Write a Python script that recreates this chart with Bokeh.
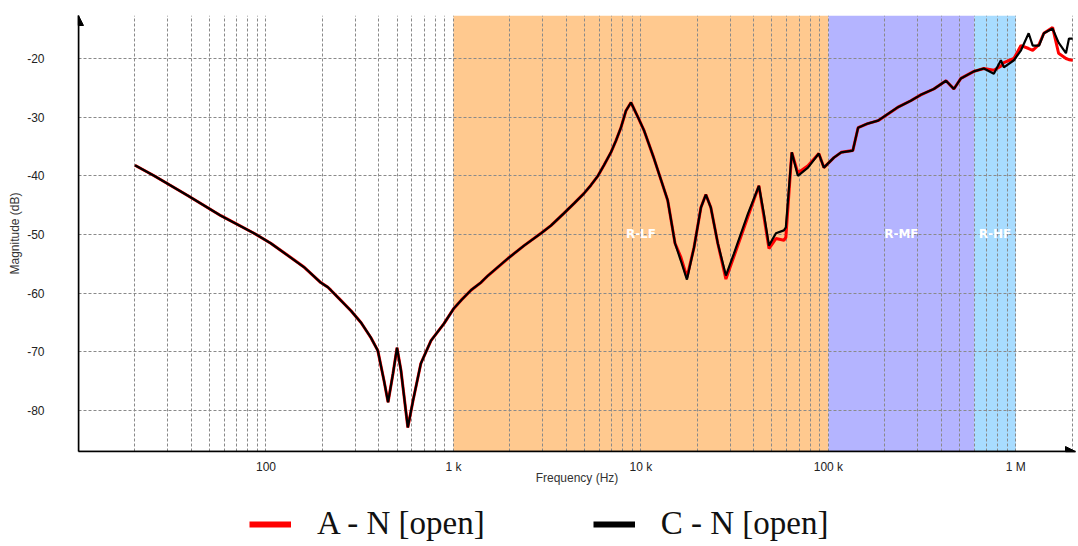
import math
from bokeh.plotting import figure
from bokeh.layouts import column
from bokeh.models import (Range1d, FixedTicker, CustomJSTickFormatter, BoxAnnotation,
                          Arrow, NormalHead, Legend, LegendItem, ColumnDataSource)
from bokeh.core.properties import value
from bokeh.embed import file_html
from bokeh.resources import INLINE

# ---------------- data ----------------
freq_hz = [20, 25.3, 38.4, 57.5, 86.3, 106, 131, 160, 196, 214, 222, 245, 284, 321, 363, 395,
           426, 448, 476, 500, 525, 571, 609, 670, 759, 890, 1005, 1100, 1240, 1400, 1530,
           1950, 2380, 2930, 3310, 3880, 4400, 4970, 5410, 5900, 6350, 6920, 7360, 7820,
           8320, 8850, 9640, 10400, 11700, 13900, 15200, 16300, 17600, 19200, 20900,
           22200, 23600, 25700, 28400, 31300, 37200, 42600, 45300, 48200, 52500, 57900,
           59300, 63800, 68700, 77800, 88900, 94600, 107000, 117000, 135000, 144000,
           162000, 184000, 235000, 275000, 311000, 365000, 424000, 467000, 509000, 597000,
           675000, 763000, 832000, 863000, 976000, 1065000, 1170000, 1230000, 1330000,
           1410000, 1570000, 1690000, 1850000, 1920000, 2010000]

c_n_open_db = [-38.2, -40.0, -43.4, -46.8, -49.8, -51.5, -53.6, -55.6, -58.2, -59.0, -59.5,
               -60.9, -63.0, -65.0, -67.6, -69.8, -74.9, -78.6, -73.7, -69.3, -73.2, -82.9,
               -78.3, -72.0, -68.1, -65.2, -62.6, -61.2, -59.5, -58.2, -57.0, -54.1, -51.9,
               -49.8, -48.5, -46.4, -44.7, -43.0, -41.6, -40.0, -38.2, -36.0, -34.0, -31.8,
               -28.9, -27.5, -30.0, -32.3, -36.9, -44.2, -51.5, -54.4, -57.7, -52.2, -45.4,
               -43.2, -45.4, -51.5, -57.0, -53.3, -46.5, -41.7, -46.5, -51.9, -49.8, -49.3,
               -48.8, -36.0, -40.0, -38.6, -36.2, -38.6, -36.9, -36.0, -35.7, -31.8, -31.1,
               -30.6, -28.3, -27.2, -26.2, -25.2, -23.8, -25.2, -23.4, -22.2, -21.7, -22.6,
               -20.3, -21.5, -20.3, -18.6, -15.7, -17.8, -17.8, -15.7, -14.9, -17.3, -19.1,
               -16.6, -16.6]

a_n_open_db = [-38.2, -40.0, -43.4, -46.8, -49.8, -51.5, -53.6, -55.6, -58.2, -59.0, -59.5,
               -60.9, -63.0, -65.0, -67.6, -69.8, -74.9, -78.6, -73.7, -69.3, -73.2, -82.9,
               -78.3, -72.0, -68.1, -65.2, -62.6, -61.2, -59.5, -58.2, -57.0, -54.1, -51.9,
               -49.8, -48.5, -46.4, -44.7, -43.0, -41.6, -40.0, -38.2, -36.0, -34.0, -31.8,
               -28.9, -27.5, -30.0, -32.3, -36.9, -44.2, -51.5, -53.8, -57.3, -52.2, -45.4,
               -43.2, -45.4, -51.5, -57.6, -53.8, -47.0, -41.7, -47.0, -52.4, -50.7, -51.0,
               -50.5, -36.0, -39.5, -38.3, -36.2, -38.6, -36.9, -36.0, -35.7, -31.8, -31.1,
               -30.6, -28.3, -27.2, -26.2, -25.2, -23.8, -25.2, -23.4, -22.2, -21.7, -22.0,
               -21.3, -20.7, -20.0, -17.8, -18.3, -18.6, -17.6, -15.7, -14.7, -19.1, -20.0,
               -20.2, -20.3]

series_names = ["A - N [open]", "C - N [open]"]

x_tick_vals = [100, 1000, 10000, 100000, 1000000]
x_tick_labels = ["100", "1 k", "10 k", "100 k", "1 M"]
y_tick_vals = [-80, -70, -60, -50, -40, -30, -20]

region_names = ["R-LF", "R-MF", "R-HF"]
region_starts = [1e3, 1e5, 6e5]
region_ends = [1e5, 6e5, 1e6]
region_colors = ["#FFC98F", "#B4B4FF", "#A8DCFF"]

# ---------------- main figure ----------------
X0, X1 = 10, 2.08e6
Y0, Y1 = -87.0, -12.67

p = figure(width=1078, height=500, x_axis_type="log",
           x_range=Range1d(X0, X1), y_range=Range1d(Y0, Y1),
           output_backend="svg", toolbar_location=None,
           min_border_left=78, min_border_right=3, min_border_top=15, min_border_bottom=49)
p.outline_line_color = None
p.background_fill_color = "white"

for s, e, c in zip(region_starts, region_ends, region_colors):
    p.add_layout(BoxAnnotation(left=s, right=e, fill_color=c, fill_alpha=1.0,
                               line_color=None, level="image"))

grid_x = []
for dec in range(1, 7):
    for m in range(1, 10):
        v = m * 10 ** dec
        if 20 <= v <= 2e6:
            grid_x.append(v)
p.xgrid.ticker = FixedTicker(ticks=grid_x)
p.ygrid.ticker = FixedTicker(ticks=y_tick_vals)
for g in (p.xgrid, p.ygrid):
    g.grid_line_color = "#8a8a8a"
    g.grid_line_dash = "3 2"
    g.grid_line_width = 1

p.xaxis.ticker = FixedTicker(ticks=x_tick_vals, minor_ticks=[])
p.xaxis.formatter = CustomJSTickFormatter(
    args=dict(vals=x_tick_vals, labs=x_tick_labels),
    code="const i = vals.findIndex(v => Math.abs(v - tick) / v < 1e-6); return i >= 0 ? labs[i] : '';")
p.yaxis.ticker = FixedTicker(ticks=y_tick_vals, minor_ticks=[])
p.yaxis.formatter = CustomJSTickFormatter(code="return tick.toFixed(0);")
p.xaxis.axis_label = "Frequency (Hz)"
p.yaxis.axis_label = "Magnitude (dB)"
for ax in (p.xaxis, p.yaxis):
    ax.axis_line_color = "black"
    ax.axis_line_width = 1.5
    ax.major_tick_line_color = None
    ax.minor_tick_line_color = None
    ax.major_tick_out = 0
    ax.major_tick_in = 0
    ax.minor_tick_out = 0
    ax.major_label_text_font = "Liberation Sans"
    ax.major_label_text_font_size = "12px"
    ax.major_label_text_color = "#222222"
    ax.axis_label_text_font = "Liberation Sans"
    ax.axis_label_text_font_size = "12px"
    ax.axis_label_text_font_style = "normal"
    ax.axis_label_text_color = "#333333"
p.xaxis.major_label_standoff = 8
p.xaxis.axis_label_standoff = -6
p.yaxis.major_label_standoff = 34
p.yaxis.axis_label_standoff = 2

p.add_layout(Arrow(end=NormalHead(size=10, fill_color="black", line_color="black"),
                   x_start=X0, y_start=Y0, x_end=X0, y_end=Y1,
                   line_color="black", line_width=1.5))
p.add_layout(Arrow(end=NormalHead(size=10, fill_color="black", line_color="black"),
                   x_start=X0, y_start=Y0, x_end=X1, y_end=Y0,
                   line_color="black", line_width=1.5))

src = ColumnDataSource(dict(f=freq_hz, a=a_n_open_db, c=c_n_open_db))
p.line("f", "a", source=src, line_color="#FF0000", line_width=3)
p.line("f", "c", source=src, line_color="black", line_width=2.2)

centers = [math.sqrt(s * e) for s, e in zip(region_starts, region_ends)]
p.text(x=centers, y=[-50] * len(centers), text=region_names, text_color="white",
       text_font=value("DejaVu Sans"), text_font_style="bold", text_font_size="12px",
       text_align="center", text_baseline="middle")

# ---------------- legend strip ----------------
q = figure(width=1078, height=46, x_range=Range1d(0, 1), y_range=Range1d(0, 1),
           output_backend="svg", toolbar_location=None, min_border=0,
           x_axis_location=None, y_axis_location=None)
q.grid.visible = False
q.outline_line_color = None
offscreen = ColumnDataSource(dict(x=[-5, -4], y=[-5, -5]))
r_red = q.line("x", "y", source=offscreen, line_color="#FF0000", line_width=6)
r_blk = q.line("x", "y", source=offscreen, line_color="black", line_width=6)
legend = Legend(items=[LegendItem(label=series_names[0], renderers=[r_red]),
                       LegendItem(label=series_names[1], renderers=[r_blk])],
                location=(171, 4), orientation="horizontal",
                glyph_width=42, glyph_height=20, label_standoff=26, spacing=108,
                padding=0, margin=0, border_line_color=None, background_fill_alpha=0,
                label_text_font="Liberation Serif", label_text_font_size="33px",
                label_text_color="#111111")
q.add_layout(legend, "center")

open("out.html", "w").write(file_html(column(p, q, spacing=0), INLINE))
